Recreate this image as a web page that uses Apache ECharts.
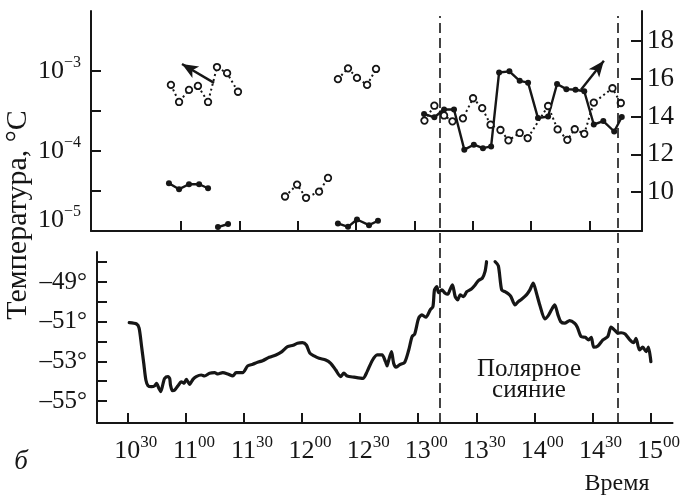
<!DOCTYPE html>
<html>
<head>
<meta charset="utf-8">
<script src="https://cdn.jsdelivr.net/npm/echarts@6/dist/echarts.min.js"></script>
<style>
  html, body { margin: 0; padding: 0; background: #fff; }
  #chart { width: 683px; height: 495px; }
</style>
</head>
<body>
<div id="chart"></div>
<script>
// Time is expressed in minutes after midnight (10:30 = 630).
const timeTicks = [630, 660, 690, 720, 750, 780, 810, 840, 870, 900];
const timeLabels = [['10','30'],['11','00'],['11','30'],['12','00'],['12','30'],
                    ['13','00'],['13','30'],['14','00'],['14','30'],['15','00']];

// Upper panel, left logarithmic scale: open circles on a dotted line (segments)
const openTimes = [
  [654.8, 659.0, 664.1, 668.7, 673.9, 678.5, 683.7, 689.3],
  [713.5, 719.7, 724.3, 731.0, 735.6],
  [740.7, 745.9, 750.5, 755.7, 760.3],
  [785.2, 790.3, 795.3, 799.6, 805.0, 810.2, 814.9, 819.2, 824.3, 828.4,
   834.2, 838.3, 848.8, 853.7, 858.7, 862.5, 867.4, 872.3, 881.9, 886.2]
];
const openValues = [
  [6.7e-4, 4.1e-4, 5.8e-4, 6.5e-4, 4.1e-4, 1.12e-3, 9.4e-4, 5.5e-4],
  [2.7e-5, 3.8e-5, 2.6e-5, 3.1e-5, 4.6e-5],
  [7.9e-4, 1.08e-3, 8.2e-4, 6.7e-4, 1.06e-3],
  [2.40e-4, 3.68e-4, 2.78e-4, 2.35e-4, 2.56e-4, 4.56e-4, 3.43e-4, 2.13e-4, 1.83e-4, 1.36e-4,
   1.68e-4, 1.45e-4, 3.65e-4, 1.86e-4, 1.38e-4, 1.87e-4, 1.64e-4, 4.02e-4, 6.08e-4, 3.98e-4]
];

// Upper panel, right linear scale: filled circles on a solid line (segments)
const filledTimes = [
  [653.8, 659.0, 664.1, 669.3, 673.9],
  [679.0, 684.2],
  [740.7, 745.9, 750.5, 756.7, 761.3],
  [785.0, 790.3, 795.3, 800.4, 805.7, 810.6, 815.3, 819.5, 823.6, 828.9, 834.2,
   838.5, 843.6, 848.8, 853.4, 858.2, 862.9, 867.4, 872.3, 877.2, 882.8, 886.7]
];
const filledValues = [
  [10.47, 10.16, 10.42, 10.42, 10.21],
  [8.16, 8.32],
  [8.35, 8.17, 8.56, 8.26, 8.49],
  [14.14, 13.96, 14.37, 14.37, 12.25, 12.51, 12.33, 12.42, 16.33, 16.39, 15.89,
   15.79, 13.92, 14.00, 15.72, 15.45, 15.42, 15.34, 13.58, 13.76, 13.21, 13.98]
];

// Arrows pointing each curve to its scale: [time, value] from -> to
const arrowLeft = { from: [677, 7.1e-4], to: [660.5, 1.22e-3] };
const arrowRight = { from: [865.7, 15.42], to: [877.5, 16.95] };

// Lower panel: temperature, °C (two segments, the peak runs off the scale)
const tempTimes = [
  [630.7, 634.5, 635.8, 637.1, 638.2, 639.3, 640.4, 642.2, 643.9, 644.8, 646.0, 647.0, 648.2,
   649.0, 650.7, 651.6, 652.0, 653.0, 654.2, 655.9, 657.6, 659.0, 660.2, 661.0, 661.9, 663.6,
   665.3, 667.9, 669.6, 672.2, 674.8, 676.5, 679.0, 681.6, 684.2, 685.9, 689.3, 691.9, 694.5,
   697.0, 699.6, 703.0, 706.5, 709.6, 712.5, 715.4, 717.6, 720.2, 722.2, 724.0, 726.2, 728.8,
   732.2, 734.8, 737.4, 739.9, 741.6, 743.3, 746.8, 751.4, 753.6, 756.2, 758.8, 761.3, 763.1,
   763.9, 764.4, 766.2, 767.3, 768.5, 770.3, 773.0, 775.1, 776.8, 778.2, 780.2, 781.9, 784.0,
   786.2, 787.6, 788.4, 789.6, 790.5, 792.2, 793.9, 795.3, 796.5, 797.7, 799.1, 800.4, 801.7,
   803.4, 805.1, 807.3, 809.4, 811.1, 813.1, 814.5, 815.3],
  [819.7, 821.4, 823.1, 824.8, 826.5, 827.9, 830.0, 831.7, 833.4, 835.9, 837.7, 839.4, 841.1,
   842.8, 845.4, 847.1, 848.8, 850.5, 852.2, 853.6, 855.7, 858.2, 860.8, 862.2, 864.2, 866.3,
   868.0, 869.4, 870.7, 872.8, 875.4, 877.9, 879.6, 881.7, 883.1, 884.8, 886.9, 889.1, 891.3,
   892.5, 894.3, 896.0, 897.7, 898.9, 900.2]
];
const tempValues = [
  [-51.05, -51.12, -51.33, -52.26, -53.10, -53.94, -54.23, -54.28, -54.23, -54.11, -54.36, -54.53, -54.11,
   -53.86, -53.77, -53.86, -54.19, -54.48, -54.45, -54.23, -54.03, -54.11, -53.91, -54.03, -54.16, -53.91,
   -53.77, -53.69, -53.74, -53.60, -53.57, -53.64, -53.57, -53.64, -53.74, -53.57, -53.57, -53.23, -53.15,
   -53.05, -52.97, -52.80, -52.68, -52.51, -52.26, -52.19, -52.09, -52.06, -52.18, -52.59, -52.73, -52.85,
   -52.93, -53.10, -53.44, -53.77, -53.60, -53.74, -53.80, -53.86, -53.52, -52.97, -52.68, -52.68, -53.02,
   -53.23, -53.07, -52.51, -53.10, -53.30, -53.18, -53.05, -52.43, -51.76, -51.62, -50.83, -50.66, -50.78,
   -50.41, -50.24, -49.40, -49.24, -49.54, -49.40, -49.57, -49.62, -49.37, -49.15, -49.74, -49.91, -49.65,
   -49.74, -49.49, -49.37, -49.15, -48.93, -48.81, -48.48, -47.98],
  [-47.98, -48.19, -49.40, -49.49, -49.60, -49.74, -50.16, -49.99, -49.87, -49.65, -49.40, -49.06, -49.57,
   -50.16, -50.86, -50.71, -50.41, -50.16, -50.66, -51.00, -51.08, -50.95, -51.08, -51.28, -51.76, -51.79,
   -51.92, -51.79, -52.29, -52.23, -51.92, -51.76, -51.28, -51.45, -51.59, -51.56, -51.62, -51.89, -52.06,
   -51.84, -52.43, -52.29, -52.51, -52.29, -53.02]
];

// Start and end of the aurora
const auroraBounds = [790.5, 882];

// Axis ticks and labels
const logTicks = [3.162e-5, 1e-4, 3.162e-4, 1e-3];
const logLabels = [1e-5, 1e-4, 1e-3];
const rightTicks = [10, 12, 14, 16, 18];
const tempTicks = [-55, -54, -53, -52, -51, -50, -49, -48];
const tempLabels = [-55, -53, -51, -49];

const INK = '#161616';
const SERIF = '"Liberation Serif", "DejaVu Serif", serif';

const chart = echarts.init(document.getElementById('chart'), null, { renderer: 'canvas' });

const axisLine = { show: true, onZero: false, lineStyle: { color: INK, width: 2 } };
const tickStyle = { color: INK, width: 2 };

const series = [];
openTimes.forEach((ts, i) => {
  series.push({
    type: 'line', xAxisIndex: 0, yAxisIndex: 0,
    data: ts.map((t, j) => [t, openValues[i][j]]),
    symbol: 'circle', symbolSize: 6.5,
    itemStyle: { color: '#fff', borderColor: INK, borderWidth: 1.8 },
    lineStyle: { color: INK, width: 2, type: [2, 3] },
    z: 4, animation: false, silent: true
  });
});
filledTimes.forEach((ts, i) => {
  series.push({
    type: 'line', xAxisIndex: 0, yAxisIndex: 1,
    data: ts.map((t, j) => [t, filledValues[i][j]]),
    symbol: 'circle', symbolSize: 6,
    itemStyle: { color: INK },
    lineStyle: { color: INK, width: 2.4 },
    z: 3, animation: false, silent: true
  });
});

const arrowStyle = {
  silent: true, symbol: ['none', 'arrow'], symbolSize: [10, 16],
  label: { show: false },
  lineStyle: { type: 'solid', color: INK, width: 2.4 },
  animation: false
};
series[0].markLine = Object.assign({}, arrowStyle, {
  data: [[{ coord: arrowLeft.from }, { coord: arrowLeft.to }]]
});
series[series.length - 1].markLine = Object.assign({}, arrowStyle, {
  data: [[{ coord: arrowRight.from }, { coord: arrowRight.to }]]
});

tempTimes.forEach((ts, i) => {
  series.push({
    type: 'line', xAxisIndex: 1, yAxisIndex: 2,
    data: ts.map((t, j) => [t, tempValues[i][j]]),
    symbol: 'none', smooth: 0.25,
    lineStyle: { color: INK, width: 3.2, cap: 'round', join: 'round' },
    animation: false, silent: true
  });
});

// Dashed verticals across both panels
series.push({
  type: 'line', xAxisIndex: 2, yAxisIndex: 3,
  data: [[auroraBounds[0], 0.5]], symbol: 'none', lineStyle: { opacity: 0 },
  markLine: {
    silent: true, symbol: 'none', label: { show: false }, animation: false,
    lineStyle: { type: [10, 5], color: INK, width: 1.6 },
    data: auroraBounds.map(v => ({ xAxis: v }))
  }
});

const option = {
  backgroundColor: '#fff',
  animation: false,
  grid: [
    { left: 91, right: 41, top: 11, bottom: 264 },
    { left: 97, right: 8, top: 252, bottom: 72 },
    { left: 97, right: 8, top: 16, bottom: 72 }
  ],
  xAxis: [
    {
      gridIndex: 0, type: 'value', min: 613.7, max: 897.1,
      axisLine: axisLine,
      axisTick: { inside: true, length: 10, lineStyle: tickStyle, customValues: timeTicks.slice(1, 9) },
      axisLabel: { show: false }, splitLine: { show: false }
    },
    {
      gridIndex: 1, type: 'value', min: 614.05, max: 911.4,
      axisLine: axisLine,
      axisTick: { inside: true, length: 10, lineStyle: tickStyle, customValues: timeTicks },
      axisLabel: {
        customValues: timeTicks, margin: 11, padding: [0, 0, 0, 16],
        formatter: v => {
          const k = timeTicks.indexOf(v);
          return k < 0 ? '' : '{h|' + timeLabels[k][0] + '}{m|' + timeLabels[k][1] + '}';
        },
        rich: {
          h: { fontSize: 26, fontFamily: SERIF, color: INK },
          m: { fontSize: 17, fontFamily: SERIF, color: INK, padding: [0, 0, 18, 0] }
        }
      },
      splitLine: { show: false }
    },
    { gridIndex: 2, type: 'value', min: 614.05, max: 911.4, show: false }
  ],
  yAxis: [
    {
      gridIndex: 0, type: 'log', logBase: 10, min: 1e-5, max: 5.62e-3,
      axisLine: axisLine,
      axisTick: { inside: true, length: 10, lineStyle: tickStyle, customValues: logTicks },
      axisLabel: {
        customValues: logLabels, margin: 10,
        formatter: v => {
          const e = Math.round(Math.log10(v));
          const sfx = e === -5 ? '5' : '';
          return '{b' + sfx + '|10}{s' + sfx + '|\u2212' + Math.abs(e) + '}';
        },
        rich: {
          b: { fontSize: 26, fontFamily: SERIF, color: INK },
          s: { fontSize: 16, fontFamily: SERIF, color: INK, padding: [0, 0, 17, 0] },
          b5: { fontSize: 26, fontFamily: SERIF, color: INK, padding: [0, 0, 22, 0] },
          s5: { fontSize: 16, fontFamily: SERIF, color: INK, padding: [0, 0, 39, 0] }
        }
      },
      splitLine: { show: false }, minorTick: { show: false }
    },
    {
      gridIndex: 0, type: 'value', position: 'right', min: 7.95, max: 19.58,
      axisLine: axisLine,
      axisTick: { inside: true, length: 11, lineStyle: tickStyle, customValues: rightTicks },
      axisLabel: { customValues: rightTicks, margin: 5, fontSize: 27, fontFamily: SERIF, color: INK },
      splitLine: { show: false }
    },
    {
      gridIndex: 1, type: 'value', min: -56.11, max: -47.49,
      axisLine: axisLine,
      axisTick: { inside: true, length: 10, lineStyle: tickStyle, customValues: tempTicks },
      axisLabel: {
        customValues: tempLabels, margin: 10, fontSize: 25, fontFamily: SERIF, color: INK,
        formatter: v => '\u2013' + Math.abs(v) + '°'
      },
      splitLine: { show: false }
    },
    { gridIndex: 2, type: 'value', min: 0, max: 1, show: false }
  ],
  graphic: [
    {
      type: 'text', x: 18, y: 215, rotation: Math.PI / 2, silent: true,
      style: { text: 'Температура, °С', font: '30px ' + SERIF, fill: INK, align: 'center', verticalAlign: 'middle' }
    },
    {
      type: 'text', x: 21, y: 462, silent: true,
      style: { text: 'б', font: 'italic 27px ' + SERIF, fill: INK, align: 'center', verticalAlign: 'middle' }
    },
    {
      type: 'text', x: 617, y: 484, silent: true,
      style: { text: 'Время', font: '24px ' + SERIF, fill: INK, align: 'center', verticalAlign: 'middle' }
    },
    {
      type: 'text', x: 529, y: 380, silent: true,
      style: { text: 'Полярное\nсияние', font: '25px ' + SERIF, lineHeight: 21, fill: INK, align: 'center', verticalAlign: 'middle' }
    }
  ],
  series: series
};

chart.setOption(option);
</script>
</body>
</html>
